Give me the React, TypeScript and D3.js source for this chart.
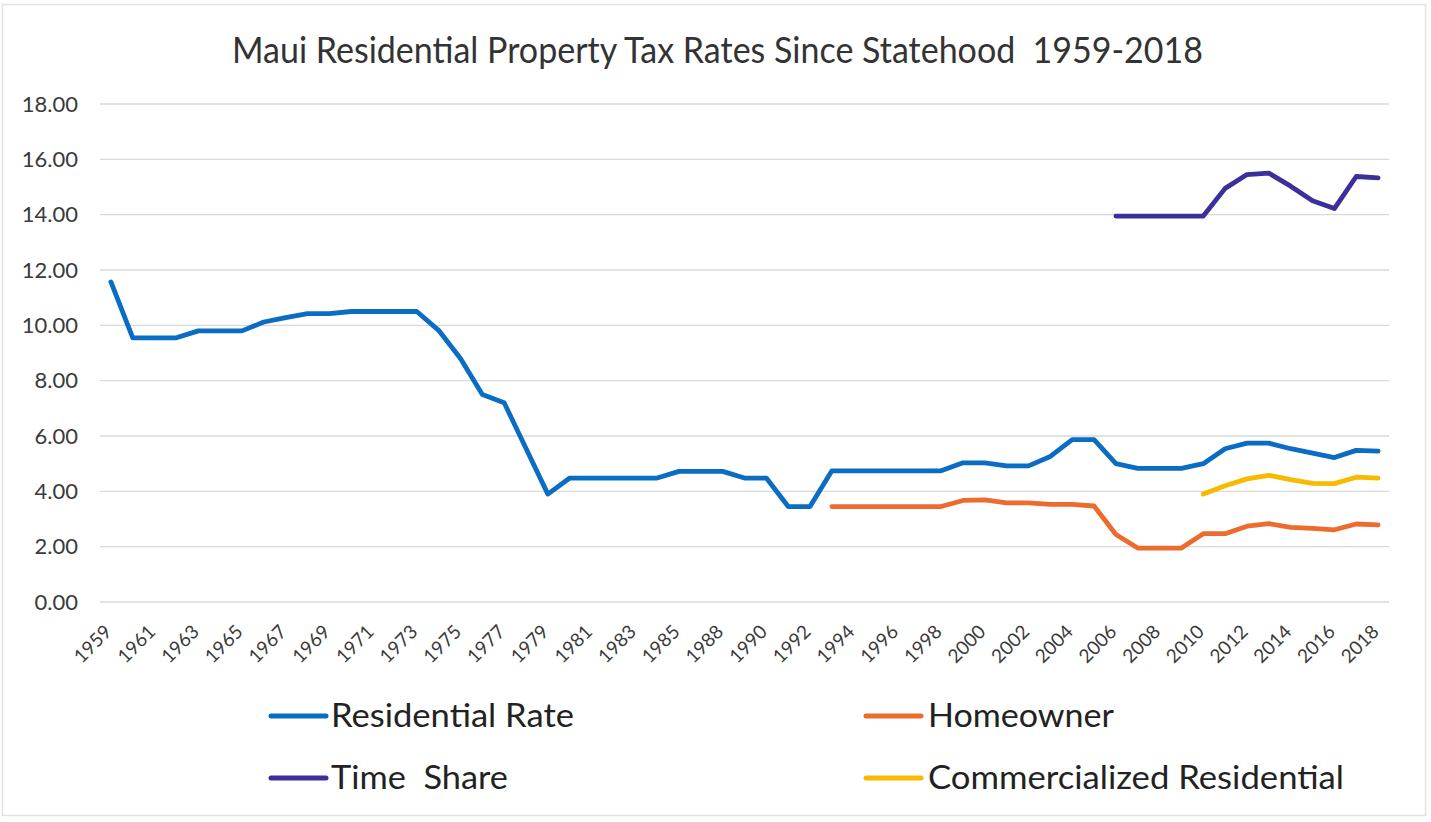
import React from 'react';
import * as d3 from 'd3';

const years: string[] = [
  '1959','1960','1961','1962','1963','1964','1965','1966','1967','1968',
  '1969','1970','1971','1972','1973','1974','1975','1976','1977','1978',
  '1979','1980','1981','1982','1983','1984','1985','1987','1988','1989',
  '1990','1991','1992','1993','1994','1995','1996','1997','1998','1999',
  '2000','2001','2002','2003','2004','2005','2006','2007','2008','2009',
  '2010','2011','2012','2013','2014','2015','2016','2017','2018'
];

const residentialRate: (number | null)[] = [
  11.57, 9.55, 9.55, 9.55, 9.80, 9.80, 9.80, 10.12, 10.28, 10.42,
  10.42, 10.50, 10.50, 10.50, 10.50, 9.82, 8.80, 7.50, 7.20, 5.55,
  3.90, 4.48, 4.48, 4.48, 4.48, 4.48, 4.72, 4.72, 4.72, 4.48,
  4.48, 3.45, 3.45, 4.74, 4.74, 4.74, 4.74, 4.74, 4.74, 5.03,
  5.03, 4.92, 4.92, 5.26, 5.87, 5.87, 5.00, 4.83, 4.83, 4.83,
  5.00, 5.54, 5.74, 5.74, 5.54, 5.38, 5.22, 5.48, 5.45
];

const homeowner: (number | null)[] = (Array(33).fill(null) as (number | null)[]).concat([
  3.45, 3.45, 3.45, 3.45, 3.45, 3.45, 3.67, 3.69, 3.58, 3.58,
  3.53, 3.53, 3.47, 2.44, 1.95, 1.95, 1.95, 2.47, 2.47, 2.74,
  2.83, 2.70, 2.66, 2.61, 2.82, 2.79
]);

const timeShare: (number | null)[] = (Array(46).fill(null) as (number | null)[]).concat([
  13.95, 13.95, 13.95, 13.95, 13.95, 14.95, 15.45, 15.50, 15.03, 14.50,
  14.22, 15.38, 15.33
]);

const commercializedResidential: (number | null)[] = (Array(50).fill(null) as (number | null)[]).concat([
  3.90, 4.20, 4.45, 4.58, 4.42, 4.29, 4.28, 4.51, 4.48
]);

const yTicks: number[] = [0, 2, 4, 6, 8, 10, 12, 14, 16, 18];

const seriesNames = ['Residential Rate', 'Homeowner', 'Time  Share', 'Commercialized Residential'];
const seriesValues = [residentialRate, homeowner, timeShare, commercializedResidential];
const seriesColors = ['#0A6CC2', '#ED6B2D', '#3B2F9A', '#F7BA00'];

const title = 'Maui Residential Property Tax Rates Since Statehood  1959-2018';

const W = 1431;
const H = 822;
const FONT = 'Lato, "Open Sans", sans-serif';

export default function App() {
  const x = d3.scaleBand<string>().domain(years).range([100, 1389]).paddingInner(0).paddingOuter(0);
  const cx = (yr: string) => (x(yr) as number) + x.bandwidth() / 2;
  const y = d3.scaleLinear().domain([0, 18]).range([602, 104]);

  const line = d3
    .line<number | null>()
    .defined((d) => d !== null)
    .x((_, i) => cx(years[i]))
    .y((d) => y(d as number));

  // legend layout: 2 columns x 2 rows
  const legendPos = [
    { sx: 271, tx: 331, y: 716, len: 243 },
    { sx: 866, tx: 928, y: 716, len: 186 },
    { sx: 271, tx: 331, y: 778, len: 177 },
    { sx: 866, tx: 928, y: 778, len: 416 },
  ];

  return (
    <svg
      width={W}
      height={H}
      style={{ position: 'absolute', left: 0, top: 0, background: '#fff' }}
      fontFamily={FONT}
    >
      <rect x={0} y={0} width={W} height={H} fill="#ffffff" />
      <rect x={2.5} y={4.5} width={1423} height={811} fill="none" stroke="#e2e2e2" strokeWidth={1.5} />

      <text
        x={232}
        y={63}
        fontSize={36}
        fill="#333333"
        textLength={971}
        lengthAdjust="spacingAndGlyphs"
        style={{ whiteSpace: 'pre' }}
      >
        {title}
      </text>

      {yTicks.map((t) => (
        <g key={t}>
          <line x1={100} x2={1389} y1={y(t)} y2={y(t)} stroke="#d9d9d9" strokeWidth={1.3} />
          <text x={78} y={y(t)} dy="0.35em" textAnchor="end" fontSize={22} fill="#3a3a3a">
            {d3.format('.2f')(t)}
          </text>
        </g>
      ))}

      {years.map((yr, i) =>
        i % 2 === 0 ? (
          <text
            key={yr}
            transform={`translate(${cx(yr) + 2},${633}) rotate(-45)`}
            textAnchor="end"
            fontSize={19}
            fill="#3a3a3a"
          >
            {yr}
          </text>
        ) : null
      )}

      {seriesValues.map((vals, k) => (
        <path
          key={seriesNames[k]}
          d={line(vals) || ''}
          fill="none"
          stroke={seriesColors[k]}
          strokeWidth={4.8}
          strokeLinejoin="round"
          strokeLinecap="round"
        />
      ))}

      {seriesNames.map((name, k) => {
        const p = legendPos[k];
        return (
          <g key={name}>
            <line x1={p.sx} x2={p.sx + 55} y1={p.y} y2={p.y} stroke={seriesColors[k]} strokeWidth={5} strokeLinecap="round" />
            <text
              x={p.tx}
              y={p.y + 11}
              fontSize={33}
              fill="#222222"
              textLength={p.len}
              lengthAdjust="spacingAndGlyphs"
              style={{ whiteSpace: 'pre' }}
            >
              {name}
            </text>
          </g>
        );
      })}
    </svg>
  );
}
